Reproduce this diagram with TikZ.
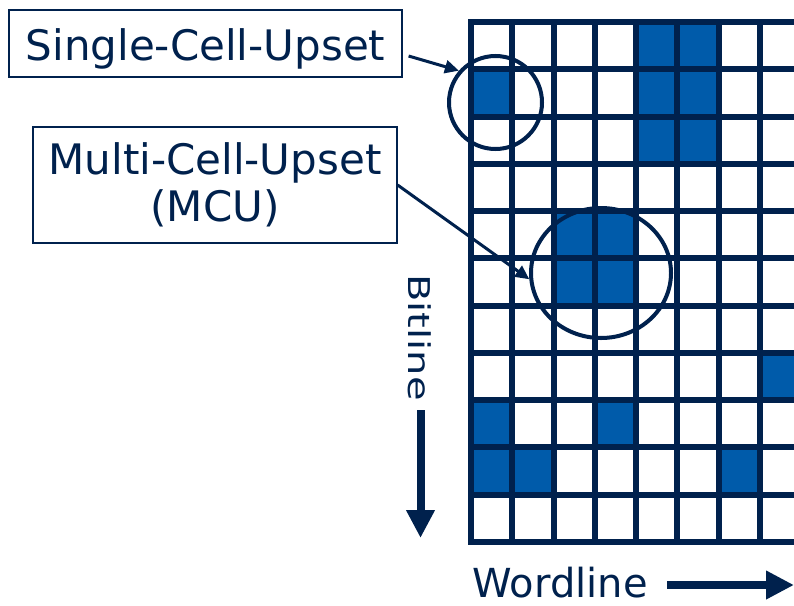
\documentclass[tikz,border=0pt]{standalone}
\usepackage{fontspec}
\setmainfont{DejaVu Sans}
\usetikzlibrary{arrows.meta,shapes.geometric}
\definecolor{navy}{RGB}{0,33,77}
\definecolor{cellblue}{RGB}{0,91,170}
% one upset memory cell: column, row
\newcommand{\upsetcell}[2]{\fill[cellblue] ({471+41.25*#1},{22+47.27*#2}) rectangle ++(41.25,47.27);}

\begin{document}
\begin{tikzpicture}
  [x=1pt,y=-1pt,
  labelbox/.style={rectangle,draw=navy,line width=1.2pt,text=navy,align=center,
                  font=\fontsize{42}{47}\selectfont,inner sep=0pt},
  axislabel/.style={text=navy,inner sep=0pt,
                  font=\fontsize{40}{44}\selectfont},
  gridline/.style={draw=navy,line width=6pt,line cap=rect},
  ring/.style={circle,draw=navy,line width=4pt,inner sep=0pt,
                  minimum size=93pt},
  oval/.style={ellipse,draw=navy,line width=4pt,inner sep=0pt,
                  minimum width=140pt,minimum height=130pt},
  thinarrow/.style={draw=navy,line width=3pt,
                  -{Triangle[length=14pt,width=13pt]}},
  bigarrow/.style={draw=navy,line width=8pt,
                  -{Triangle[length=28pt,width=27pt]}}
                  ]
  \useasboundingbox (0,0) rectangle (794,605);

  % memory array
  \begin{scope}
  \clip (0,0) rectangle (794,605);
  \upsetcell{4}{0}
  \upsetcell{5}{0}
  \upsetcell{0}{1}
  \upsetcell{4}{1}
  \upsetcell{5}{1}
  \upsetcell{4}{2}
  \upsetcell{5}{2}
  \upsetcell{2}{4}
  \upsetcell{3}{4}
  \upsetcell{2}{5}
  \upsetcell{3}{5}
  \upsetcell{7}{7}
  \upsetcell{0}{8}
  \upsetcell{3}{8}
  \upsetcell{0}{9}
  \upsetcell{1}{9}
  \upsetcell{6}{9}
  \foreach \col in {0,...,8}
    \draw[gridline] ({471+41.25*\col},22) -- ({471+41.25*\col},542);
  \foreach \row in {0,...,11}
    \draw[gridline] (471,{22+47.27*\row}) -- (801,{22+47.27*\row});
  \end{scope}

  \node[ring] (scu) at (495.5,102.5) {};
  \node[oval] (mcu) at (601,273) {};

  \node[labelbox,minimum width=393pt,minimum height=67pt,
        text height=40pt,text depth=7pt] (scubox) at (205.5,43.5) {Single-Cell-Upset};
  \node[labelbox,minimum width=364pt,minimum height=116pt] (mcubox) at (215,185)
        {Multi-Cell-Upset\\(MCU)};

  \node[axislabel,rotate=-90,yscale=0.75,anchor=base] (bitline) at (408,337.5) {Bitline};
  \node[axislabel,anchor=base west] (wordline) at (472.5,597) {Wordline};
  \coordinate (bitfrom) at (420.5,410);
  \coordinate (bitto) at (420.5,538);
  \coordinate (wordfrom) at (667,585);
  \coordinate (wordto) at (794,585);

  \draw[thinarrow] ([xshift=6pt,yshift=-12.5pt]scubox.east) to (scu.139);
  \draw[thinarrow] (mcubox.east) to (mcu.185);
  \draw[bigarrow] (bitfrom) to (bitto);
  \draw[bigarrow] (wordfrom) to (wordto);
\end{tikzpicture}
\end{document}
